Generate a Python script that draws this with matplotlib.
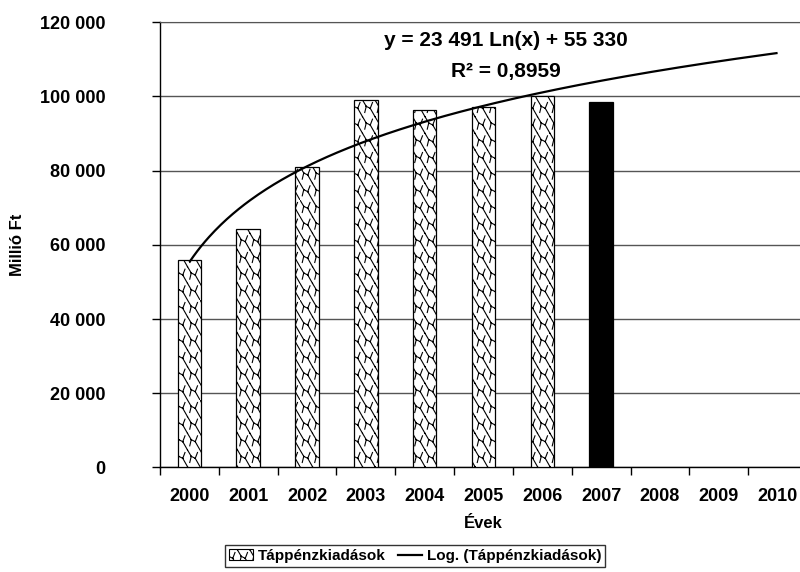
import numpy as np
import matplotlib
matplotlib.use("Agg")
import matplotlib.pyplot as plt
import matplotlib.hatch as mhatch
from matplotlib.path import Path
from matplotlib.lines import Line2D
from matplotlib.patches import Patch

# ---------------- data ----------------
years = ["2000", "2001", "2002", "2003", "2004", "2005", "2006", "2007", "2008", "2009", "2010"]
bar_years = ["2000", "2001", "2002", "2003", "2004", "2005", "2006", "2007"]
bar_values = [56000, 64200, 81000, 99000, 96300, 97000, 100000, 98500]
solid_years = ["2007"]
y_ticks = [0, 20000, 40000, 60000, 80000, 100000, 120000]
y_tick_labels = ["0", "20 000", "40 000", "60 000", "80 000", "100 000", "120 000"]
trend_a = 23491.0   # y = a*Ln(x) + b
trend_b = 55330.0
equation_text = "y = 23 491 Ln(x) + 55 330"
r2_text = "R² = 0,8959"
series_name = "Táppénzkiadások"
trend_name = "Log. (Táppénzkiadások)"
x_label = "Évek"
y_label = "Millió Ft"


# ------------- custom "shingle" hatch replacing 'x' -------------
class ShingleHatch(mhatch.HatchPatternBase):
    nx, ny = 8, 6
    motif = [((0.0, 1.0), (0.30, 0.62)), ((0.30, 0.62), (0.62, 0.50)),
             ((0.62, 0.50), (1.0, 0.0)), ((0.62, 0.50), (0.80, 0.85)),
             ((0.30, 0.62), (0.18, 0.25))]

    def __init__(self, hatch, density):
        self.on = hatch.count('x') > 0
        self.num_vertices = (self.nx * self.ny * len(self.motif) * 2) if self.on else 0

    def set_vertices_and_codes(self, vertices, codes):
        w = 1.0 / self.nx
        h = 1.0 / self.ny
        k = 0
        for i in range(self.nx):
            for j in range(self.ny):
                for (p0, p1) in self.motif:
                    vertices[k] = (i * w + p0[0] * w, j * h + p0[1] * h)
                    vertices[k + 1] = (i * w + p1[0] * w, j * h + p1[1] * h)
                    codes[k] = Path.MOVETO
                    codes[k + 1] = Path.LINETO
                    k += 2


mhatch._hatch_types[:] = [ShingleHatch]

plt.rcParams['font.family'] = ['Liberation Sans', 'DejaVu Sans']
plt.rcParams['font.weight'] = 'bold'
plt.rcParams['hatch.linewidth'] = 0.8
plt.rcParams['hatch.color'] = 'black'

fig = plt.figure(figsize=(8.0, 5.72), dpi=100)
ax = fig.add_axes([0.2, 0.1827, 0.80875, 0.7788])

xpos = {y: i for i, y in enumerate(years)}
for yr, v in zip(bar_years, bar_values):
    solid = yr in solid_years
    ax.bar(xpos[yr], v, width=0.4,
           facecolor='black' if solid else 'white',
           edgecolor='black', linewidth=0.9,
           hatch=None if solid else 'x', zorder=3)

xs = np.linspace(1, len(years), 300)
ax.plot(xs - 1, trend_a * np.log(xs) + trend_b, color='black', lw=1.6, zorder=4,
        solid_capstyle='butt')

ax.set_xlim(-0.5, len(years) - 0.5)
ax.set_ylim(0, 120000)
ax.set_yticks(y_ticks)
ax.set_yticklabels(y_tick_labels)
ax.tick_params(axis='y', direction='out', length=6, width=1, pad=33, labelsize=13)
ax.yaxis.grid(True, color='#555555', lw=1.0, zorder=0)
ax.set_axisbelow(True)

ax.set_xticks(np.arange(-0.5, len(years), 1.0))
ax.set_xticklabels([])
ax.set_xticks(np.arange(len(years)), minor=True)
ax.set_xticklabels(years, minor=True)
ax.tick_params(axis='x', which='major', direction='out', length=6, width=1)
ax.tick_params(axis='x', which='minor', length=0, pad=15, labelsize=13)

ax.spines['right'].set_visible(False)
ax.spines['top'].set_color('#555555')
ax.spines['left'].set_linewidth(1)
ax.spines['bottom'].set_linewidth(1)

ax.set_xlabel(x_label, fontsize=12, fontweight='bold')
ax.set_ylabel(y_label, fontsize=12, fontweight='bold')
ax.yaxis.set_label_coords(-0.208, 0.5)
ax.xaxis.set_label_coords(0.5, -0.109)

ax.text(0.534, 0.9596, equation_text, transform=ax.transAxes, ha='center', va='center',
        fontsize=15, fontweight='bold')
ax.text(0.534, 0.890, r2_text, transform=ax.transAxes, ha='center', va='center',
        fontsize=15, fontweight='bold')

handles = [Patch(facecolor='white', edgecolor='black', hatch='x', linewidth=0.8),
           Line2D([0], [0], color='black', lw=1.6)]
leg = fig.legend(handles, [series_name, trend_name], loc='center',
                 bbox_to_anchor=(0.519, 0.028), ncol=2, frameon=True, fancybox=False,
                 edgecolor='black', fontsize=11, handlelength=1.6, handleheight=0.7,
                 handletextpad=0.3, columnspacing=0.8, borderpad=0.25,
                 borderaxespad=0)
leg.get_frame().set_linewidth(1.0)

fig.savefig("out.png", dpi=100)
